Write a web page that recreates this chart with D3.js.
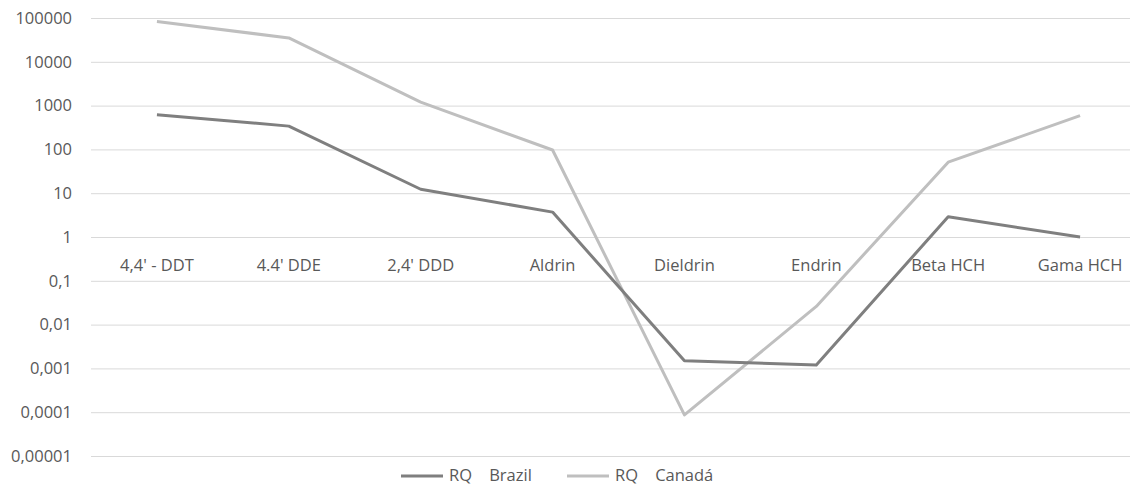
<!DOCTYPE html>
<html>
<head>
<meta charset="utf-8">
<script src="https://cdn.jsdelivr.net/npm/d3@7"></script>
<style>
  body { margin: 0; background: #fff; }
  svg { display: block; font-family: "Open Sans", "Noto Sans", sans-serif; }
  text { fill: #595959; font-size: 16.5px; }
</style>
</head>
<body>
<div id="chart"></div>
<script>
  var categories = ["4,4' - DDT", "4.4' DDE", "2,4' DDD", "Aldrin", "Dieldrin", "Endrin", "Beta HCH", "Gama HCH"],
      brazil = [620, 340, 12.3, 3.7, 0.0015, 0.0012, 2.9, 1.0],
      canada = [83000, 35000, 1200, 97, 0.000087, 0.026, 51, 590],
      yTicks = [100000, 10000, 1000, 100, 10, 1, 0.1, 0.01, 0.001, 0.0001, 0.00001],
      yTickLabels = ["100000", "10000", "1000", "100", "10", "1", "0,1", "0,01", "0,001", "0,0001", "0,00001"],
      seriesNames = ["RQ    Brazil", "RQ    Canadá"];

  var width = 1130, height = 486,
      margin = {top: 18, right: -16, bottom: 30, left: 91};

  var svg = d3.select('#chart').append('svg')
    .attr('width', width)
    .attr('height', height);

  var x = d3.scaleBand()
    .domain(categories)
    .range([margin.left, width - margin.right]);

  var y = d3.scaleLog()
    .domain([0.00001, 100000])
    .range([height - margin.bottom, margin.top]);

  // Gridlines
  svg.append('g')
    .selectAll('line')
    .data(yTicks)
    .enter().append('line')
      .attr('x1', margin.left)
      .attr('x2', width - margin.right)
      .attr('y1', function(d) { return y(d) + 0.5; })
      .attr('y2', function(d) { return y(d) + 0.5; })
      .attr('stroke', '#d9d9d9')
      .attr('stroke-width', 1);

  // Y labels
  svg.append('g')
    .selectAll('text')
    .data(yTicks)
    .enter().append('text')
      .attr('x', 72)
      .attr('y', function(d) { return y(d); })
      .attr('dy', '0.35em')
      .attr('text-anchor', 'end')
      .text(function(d, i) { return yTickLabels[i]; });

  // Category labels sit just under the value 1
  svg.append('g')
    .selectAll('text')
    .data(categories)
    .enter().append('text')
      .attr('x', function(d) { return x(d) + x.bandwidth() / 2; })
      .attr('y', y(1) + 28)
      .attr('dy', '0.35em')
      .attr('text-anchor', 'middle')
      .text(function(d) { return d; });

  var line = d3.line()
    .x(function(d, i) { return x(categories[i]) + x.bandwidth() / 2; })
    .y(function(d) { return y(d); });

  var colors = ['#7f7f7f', '#bfbfbf'];

  svg.append('path')
    .datum(canada)
    .attr('d', line)
    .attr('fill', 'none')
    .attr('stroke', colors[1])
    .attr('stroke-width', 3)
    .attr('stroke-linejoin', 'round');

  svg.append('path')
    .datum(brazil)
    .attr('d', line)
    .attr('fill', 'none')
    .attr('stroke', colors[0])
    .attr('stroke-width', 3)
    .attr('stroke-linejoin', 'round');

  // Legend
  var legend = svg.append('g');
  var legendX = [401, 567];
  seriesNames.forEach(function(name, i) {
    legend.append('line')
      .attr('x1', legendX[i])
      .attr('x2', legendX[i] + 42)
      .attr('y1', 476)
      .attr('y2', 476)
      .attr('stroke', colors[i])
      .attr('stroke-width', 3);
    legend.append('text')
      .attr('x', legendX[i] + 48)
      .attr('y', 475)
      .attr('dy', '0.35em')
      .style('white-space', 'pre')
      .text(name);
  });
</script>
</body>
</html>
